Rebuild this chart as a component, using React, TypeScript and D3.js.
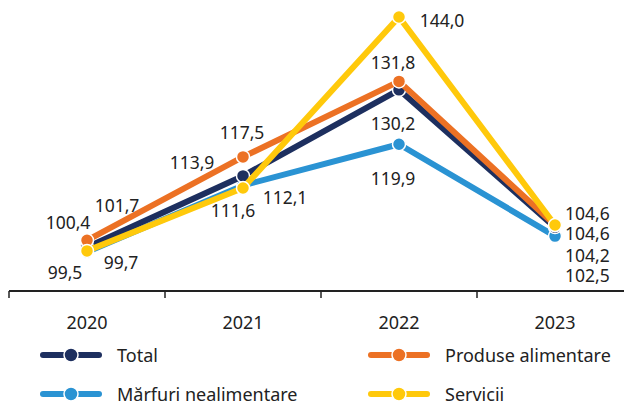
import React, { useRef, useEffect } from 'react';
import * as d3 from 'd3';

// data
const years = ['2020', '2021', '2022', '2023'];
const seriesNames = ['Total', 'Produse alimentare', 'Mărfuri nealimentare', 'Servicii'];
const totalValues = [100.4, 113.9, 130.2, 104.2];
const alimentareValues = [101.7, 117.5, 131.8, 104.6];
const nealimentareValues = [99.5, 112.1, 119.9, 102.5];
const serviciiValues = [99.7, 111.6, 144.0, 104.6];

const colors = ['#1d2f5f', '#ec7124', '#2a93d3', '#ffc90b'];

// label offsets from each point [dx, dy], per series, per year
const labelOffsets: [number, number][][] = [
    [[-19, -25], [-51, -14], [-6, 33], [10, 28]],
    [[30, -35], [-1, -25], [-6, -19], [10, 8]],
    [[-22, 20], [42, 12], [-6, 34], [10, 39]],
    [[34, 11], [-10, 22], [43, 3], [10, -12]],
];

const W = 624;
const H = 404;
const axisY = 291;
const FONT = '"Noto Sans", "Open Sans", sans-serif';

const fmt = (v: number) => v.toFixed(1).replace('.', ',');

const createChart = (svg: d3.Selection<SVGSVGElement, unknown, null, undefined>): void => {
    svg.selectAll('*').remove();

    const series = [
        { name: seriesNames[0], values: totalValues, color: colors[0], offs: labelOffsets[0] },
        { name: seriesNames[1], values: alimentareValues, color: colors[1], offs: labelOffsets[1] },
        { name: seriesNames[2], values: nealimentareValues, color: colors[2], offs: labelOffsets[2] },
        { name: seriesNames[3], values: serviciiValues, color: colors[3], offs: labelOffsets[3] },
    ];

    const x = d3.scaleBand().domain(years).range([9, 633]);
    const cx = (yr: string) => x(yr)! + x.bandwidth() / 2;
    const y = d3.scaleLinear().domain([95, 145]).range([275.7, 11.7]);

    // axis
    const axis = svg.append('g');
    axis.append('line')
        .attr('x1', 9).attr('x2', W)
        .attr('y1', axisY).attr('y2', axisY)
        .attr('stroke', '#222').attr('stroke-width', 2);
    axis.selectAll('.tick')
        .data(years)
        .enter().append('line')
        .attr('x1', d => x(d)!).attr('x2', d => x(d)!)
        .attr('y1', axisY).attr('y2', axisY + 7)
        .attr('stroke', '#222').attr('stroke-width', 1.5);
    axis.selectAll('.lbl')
        .data(years)
        .enter().append('text')
        .attr('x', d => cx(d))
        .attr('y', 322)
        .attr('text-anchor', 'middle')
        .attr('dominant-baseline', 'central')
        .attr('font-family', FONT)
        .attr('font-size', 18)
        .attr('fill', '#222')
        .text(d => d);

    // lines + points, drawn blue, total, orange, yellow
    const order = [2, 0, 1, 3];
    const line = d3.line<number>()
        .x((_, i) => cx(years[i]))
        .y(d => y(d));

    order.forEach(si => {
        const s = series[si];
        const g = svg.append('g');
        g.append('path')
            .attr('d', line(s.values)!)
            .attr('fill', 'none')
            .attr('stroke', s.color)
            .attr('stroke-width', 6)
            .attr('stroke-linejoin', 'round');
        g.selectAll('circle')
            .data(s.values)
            .enter().append('circle')
            .attr('cx', (_, i) => cx(years[i]))
            .attr('cy', d => y(d))
            .attr('r', 6.5)
            .attr('fill', s.color)
            .attr('stroke', '#fff')
            .attr('stroke-width', 1.5);
    });

    // value labels
    series.forEach(s => {
        svg.append('g').selectAll('text')
            .data(s.values)
            .enter().append('text')
            .attr('x', (_, i) => cx(years[i]) + s.offs[i][0])
            .attr('y', (d, i) => y(d) + s.offs[i][1])
            .attr('text-anchor', (_, i) => (i === 3 ? 'start' : 'middle'))
            .attr('dominant-baseline', 'central')
            .attr('font-family', FONT)
            .attr('font-size', 17.5)
            .attr('fill', '#222')
            .text(d => fmt(d));
    });

    // legend
    const legend = svg.append('g');
    series.forEach((s, i) => {
        const lx = i % 2 === 0 ? 40 : 368;
        const ly = i < 2 ? 355 : 394;
        const item = legend.append('g').attr('transform', `translate(${lx},${ly})`);
        item.append('line')
            .attr('x1', 3).attr('x2', 59)
            .attr('y1', 0).attr('y2', 0)
            .attr('stroke', s.color)
            .attr('stroke-width', 6)
            .attr('stroke-linecap', 'round');
        item.append('circle')
            .attr('cx', 31).attr('cy', 0).attr('r', 7)
            .attr('fill', s.color)
            .attr('stroke', '#fff')
            .attr('stroke-width', 1.5);
        item.append('text')
            .attr('x', 77).attr('y', 0)
            .attr('dominant-baseline', 'central')
            .attr('font-family', FONT)
            .attr('font-size', 18)
            .attr('fill', '#222')
            .text(s.name);
    });
};

const App: React.FC = () => {
    const ref = useRef<SVGSVGElement>(null);

    useEffect(() => {
        if (ref.current) {
            createChart(d3.select(ref.current));
        }
    }, []);

    return (
        <svg
            ref={ref}
            width={W}
            height={H}
            style={{ position: 'absolute', left: 0, top: 0, background: '#fff' }}
        />
    );
};

export default App;
